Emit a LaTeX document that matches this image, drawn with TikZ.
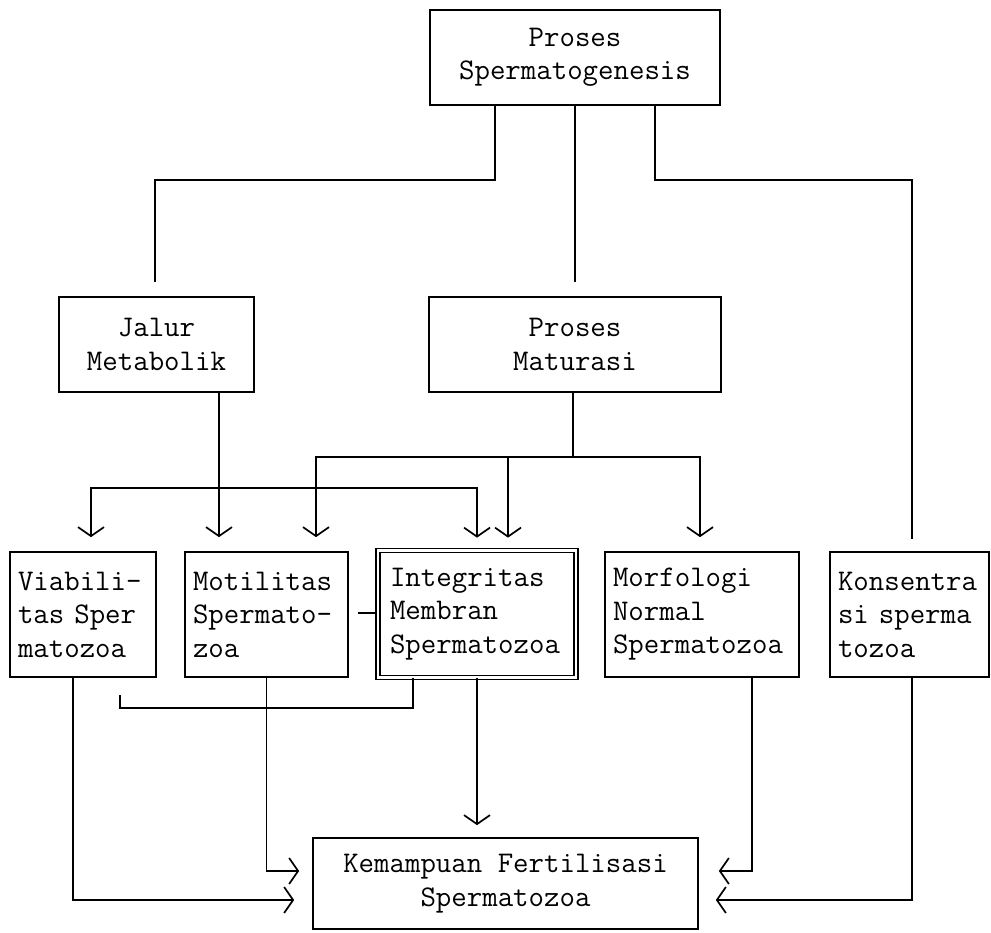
\documentclass[tikz,border=0pt]{standalone}
\usepackage{fontspec}
\usetikzlibrary{arrows.meta}
\begin{document}
\begin{tikzpicture}[x=1pt,y=-1pt,line width=1.7pt,
	font=\ttfamily\fontsize{30}{33.5}\selectfont,
	box/.style={draw,align=center,inner sep=0pt,minimum height=95pt},
	cellbox/.style={draw,align=left,inner ysep=0pt,inner xsep=8pt,minimum height=125pt,text width=#1},
	arr/.style={-{Straight Barb[length=9pt,width=26pt]}}]
	\useasboundingbox (0,0) rectangle (991,933);
	\node [box,minimum width=290pt] (spg) at (575,57.5) {Proses\\Spermatogenesis};
	\node [box,minimum width=195pt] (jalur) at (156.5,344.5) {Jalur\\Metabolik};
	\node [box,minimum width=292pt] (maturasi) at (575,344.5) {Proses\\Maturasi};
	\node [cellbox=130pt] (viab) at (83,614.5) {Viabili-\\tas Sper\\matozoa};
	\node [cellbox=147pt] (motil) at (266.5,614.5) {Motilitas\\Spermato-\\zoa};
	\node [cellbox=174pt,inner xsep=12pt,minimum height=127pt,double,double distance=2.5pt] (integ) at (477,614) {Integritas\\Membran\\Spermatozoa};
	\node [cellbox=178pt] (morf) at (702,614.5) {Morfologi\\Normal\\Spermatozoa};
	\node [cellbox=143pt] (kons) at (909.5,614.5) {Konsentra\\si sperma\\tozoa};
	\node [box,minimum width=385pt,minimum height=91pt] (fert) at (505.5,883.5) {Kemampuan Fertilisasi\\Spermatozoa};

	\coordinate (splitL) at (155,180);
	\coordinate (splitR) at (912,180);
	\coordinate (jl) at (219,488);
	\coordinate (mb) at (573,457);
	\coordinate (dash) at (358,613);
	\coordinate (hookb) at (120,708);
	\coordinate (hook) at (120,695);

	\draw [shorten >=14pt] ([xshift=-80pt]spg.south) |- (splitL) -- (splitL |- jalur.north);
	\draw [shorten >=14pt] (spg.south) -- (maturasi.north);
	\draw [shorten >=12pt] ([xshift=80pt]spg.south) |- (splitR) -- (splitR |- kons.north);

	\draw (jl |- jalur.south) -- (jl);
	\draw [arr,shorten >=14pt] (jl) -- (jl |- motil.north);
	\draw [arr,shorten >=14pt] (jl) -| ([xshift=8pt]viab.north);
	\draw [arr,shorten >=12pt] (jl) -| (integ.north);

	\draw (maturasi.south -| mb) -- (mb);
	\draw [arr,shorten >=14pt] (mb) -| ([xshift=49.5pt]motil.north);
	\draw [arr,shorten >=12pt] (mb) -| ([xshift=31pt]integ.north);
	\draw [arr,shorten >=14pt] (mb) -| ([xshift=-2pt]morf.north);

	\draw (dash) -- (dash -| integ.west);
	\draw ([xshift=-64pt]integ.south) |- (hookb) -- (hook);

	\draw [arr,shorten >=18pt] ([xshift=-10pt]viab.south) |- ([yshift=-16.5pt]fert.west);
	\draw [arr,shorten >=13pt] (motil.south) |- ([yshift=12.5pt]fert.west);
	\draw [arr,shorten >=12pt] (integ.south) -- (integ.south |- fert.north);
	\draw [arr,shorten >=20pt] ([xshift=50pt]morf.south) |- ([yshift=12.5pt]fert.east);
	\draw [arr,shorten >=17pt] ([xshift=2.5pt]kons.south) |- ([yshift=-16.5pt]fert.east);
\end{tikzpicture}
\end{document}
